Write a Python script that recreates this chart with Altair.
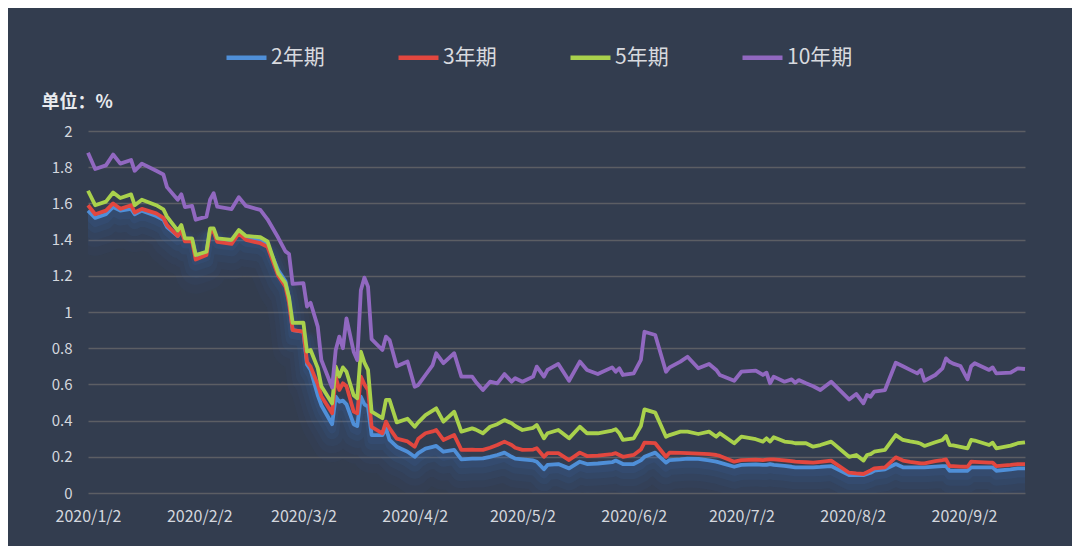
import altair as alt
import pandas as pd

# ---- data ----
dates = [
    "2020-01-02", "2020-01-04", "2020-01-07", "2020-01-09", "2020-01-11", "2020-01-14",
    "2020-01-15", "2020-01-17", "2020-01-21", "2020-01-23", "2020-01-24", "2020-01-27",
    "2020-01-28", "2020-01-29", "2020-01-31", "2020-02-01", "2020-02-04", "2020-02-05",
    "2020-02-06", "2020-02-07", "2020-02-11", "2020-02-13", "2020-02-15", "2020-02-19",
    "2020-02-21", "2020-02-24", "2020-02-26", "2020-02-27", "2020-02-28", "2020-03-02",
    "2020-03-03", "2020-03-04", "2020-03-06", "2020-03-07", "2020-03-10", "2020-03-11",
    "2020-03-12", "2020-03-13", "2020-03-14", "2020-03-16", "2020-03-17", "2020-03-18",
    "2020-03-19", "2020-03-20", "2020-03-21", "2020-03-24", "2020-03-25", "2020-03-26",
    "2020-03-28", "2020-03-31", "2020-04-02", "2020-04-03", "2020-04-05", "2020-04-07",
    "2020-04-08", "2020-04-10", "2020-04-13", "2020-04-15", "2020-04-18", "2020-04-19",
    "2020-04-21", "2020-04-23", "2020-04-25", "2020-04-27", "2020-04-29", "2020-04-30",
    "2020-05-02", "2020-05-05", "2020-05-06", "2020-05-08", "2020-05-09", "2020-05-12",
    "2020-05-15", "2020-05-18", "2020-05-20", "2020-05-23", "2020-05-27", "2020-05-28",
    "2020-05-29", "2020-05-30", "2020-06-02", "2020-06-04", "2020-06-05", "2020-06-08",
    "2020-06-11", "2020-06-12", "2020-06-15", "2020-06-17", "2020-06-20", "2020-06-23",
    "2020-06-25", "2020-06-26", "2020-06-30", "2020-07-02", "2020-07-06", "2020-07-08",
    "2020-07-09", "2020-07-10", "2020-07-11", "2020-07-14", "2020-07-16", "2020-07-17",
    "2020-07-18", "2020-07-20", "2020-07-22", "2020-07-24", "2020-07-27", "2020-08-01",
    "2020-08-03", "2020-08-05", "2020-08-06", "2020-08-07", "2020-08-08", "2020-08-11",
    "2020-08-14", "2020-08-16", "2020-08-18", "2020-08-20", "2020-08-21", "2020-08-22",
    "2020-08-25", "2020-08-27", "2020-08-28", "2020-08-29", "2020-08-30", "2020-09-01",
    "2020-09-03", "2020-09-04", "2020-09-05", "2020-09-09", "2020-09-10", "2020-09-11",
    "2020-09-15", "2020-09-17", "2020-09-19",
]

y10 = [
    1.88, 1.79, 1.81, 1.87, 1.82, 1.84, 1.78, 1.82, 1.78, 1.76, 1.69, 1.62,
    1.65, 1.58, 1.586, 1.51, 1.527, 1.62, 1.656, 1.582, 1.569, 1.634, 1.586, 1.564,
    1.512, 1.41, 1.335, 1.32, 1.155, 1.16, 1.03, 1.051, 0.919, 0.735, 0.583, 0.79,
    0.864, 0.80, 0.965, 0.781, 0.735, 1.12, 1.19, 1.14, 0.85, 0.79, 0.864, 0.845,
    0.70, 0.726, 0.587, 0.597, 0.652, 0.707, 0.772, 0.717, 0.772, 0.643, 0.643, 0.615,
    0.569, 0.615, 0.606, 0.657, 0.615, 0.634, 0.615, 0.643, 0.698, 0.643, 0.68, 0.713,
    0.62, 0.726, 0.68, 0.657, 0.694, 0.67, 0.689, 0.652, 0.661, 0.735, 0.891, 0.873,
    0.67, 0.694, 0.726, 0.753, 0.689, 0.713, 0.68, 0.652, 0.62, 0.67, 0.676, 0.652,
    0.665, 0.606, 0.643, 0.615, 0.628, 0.609, 0.624, 0.606, 0.59, 0.569, 0.615, 0.517,
    0.547, 0.496, 0.541, 0.532, 0.56, 0.569, 0.72, 0.70, 0.68, 0.661, 0.68, 0.62,
    0.652, 0.689, 0.744, 0.725, 0.715, 0.702, 0.628, 0.70, 0.717, 0.68, 0.694, 0.661,
    0.665, 0.689, 0.685,
]

y5 = [
    1.67, 1.59, 1.61, 1.66, 1.63, 1.65, 1.59, 1.62, 1.59, 1.567, 1.527, 1.45,
    1.48, 1.407, 1.407, 1.315, 1.333, 1.462, 1.462, 1.407, 1.398, 1.453, 1.42, 1.413,
    1.39, 1.214, 1.159, 1.08, 0.94, 0.941, 0.781, 0.79, 0.69, 0.59, 0.495, 0.698,
    0.643, 0.694, 0.67, 0.54, 0.523, 0.781, 0.72, 0.68, 0.449, 0.413, 0.514, 0.514,
    0.39, 0.41, 0.366, 0.39, 0.43, 0.455, 0.468, 0.394, 0.449, 0.339, 0.357, 0.35,
    0.33, 0.366, 0.38, 0.403, 0.385, 0.37, 0.348, 0.36, 0.376, 0.302, 0.33, 0.348,
    0.302, 0.366, 0.33, 0.33, 0.345, 0.352, 0.33, 0.293, 0.302, 0.37, 0.462, 0.444,
    0.311, 0.32, 0.339, 0.339, 0.326, 0.339, 0.311, 0.33, 0.275, 0.311, 0.297, 0.284,
    0.302, 0.284, 0.308, 0.284, 0.28, 0.275, 0.275, 0.275, 0.256, 0.265, 0.284, 0.20,
    0.21, 0.179, 0.21, 0.215, 0.228, 0.238, 0.32, 0.293, 0.285, 0.278, 0.272, 0.26,
    0.28, 0.293, 0.315, 0.265, 0.263, 0.255, 0.247, 0.293, 0.29, 0.265, 0.278, 0.247,
    0.262, 0.275, 0.28,
]

y3 = [
    1.59, 1.54, 1.56, 1.60, 1.57, 1.59, 1.55, 1.57, 1.545, 1.52, 1.48, 1.42,
    1.45, 1.39, 1.39, 1.29, 1.315, 1.444, 1.444, 1.388, 1.376, 1.435, 1.398, 1.38,
    1.36, 1.20, 1.14, 1.05, 0.90, 0.891, 0.725, 0.698, 0.60, 0.535, 0.44, 0.643,
    0.569, 0.606, 0.59, 0.45, 0.44, 0.643, 0.60, 0.569, 0.366, 0.33, 0.394, 0.357,
    0.30, 0.285, 0.256, 0.30, 0.33, 0.34, 0.348, 0.293, 0.32, 0.238, 0.24, 0.238,
    0.238, 0.25, 0.265, 0.284, 0.265, 0.25, 0.238, 0.24, 0.247, 0.20, 0.22, 0.22,
    0.182, 0.223, 0.204, 0.207, 0.215, 0.22, 0.21, 0.20, 0.21, 0.24, 0.278, 0.275,
    0.20, 0.223, 0.222, 0.22, 0.218, 0.215, 0.21, 0.205, 0.173, 0.182, 0.184, 0.182,
    0.184, 0.186, 0.186, 0.18, 0.176, 0.173, 0.172, 0.17, 0.168, 0.172, 0.179, 0.112,
    0.108, 0.105, 0.115, 0.125, 0.136, 0.142, 0.197, 0.179, 0.172, 0.167, 0.164, 0.164,
    0.176, 0.182, 0.186, 0.149, 0.148, 0.146, 0.145, 0.173, 0.172, 0.168, 0.168, 0.149,
    0.155, 0.16, 0.16,
]

y2 = [
    1.56, 1.52, 1.54, 1.58, 1.56, 1.57, 1.54, 1.56, 1.53, 1.51, 1.47, 1.42,
    1.45, 1.40, 1.40, 1.31, 1.33, 1.45, 1.45, 1.40, 1.39, 1.44, 1.41, 1.40,
    1.37, 1.23, 1.17, 1.07, 0.90, 0.89, 0.71, 0.68, 0.54, 0.485, 0.38, 0.532,
    0.504, 0.51, 0.49, 0.38, 0.37, 0.532, 0.49, 0.477, 0.32, 0.32, 0.357, 0.293,
    0.256, 0.228, 0.20, 0.22, 0.245, 0.255, 0.26, 0.228, 0.238, 0.186, 0.19, 0.19,
    0.191, 0.20, 0.21, 0.223, 0.20, 0.19, 0.186, 0.18, 0.173, 0.131, 0.155, 0.16,
    0.136, 0.173, 0.16, 0.163, 0.17, 0.179, 0.17, 0.16, 0.16, 0.18, 0.20, 0.223,
    0.168, 0.182, 0.186, 0.19, 0.188, 0.18, 0.173, 0.168, 0.145, 0.155, 0.158, 0.155,
    0.155, 0.16, 0.155, 0.15, 0.145, 0.142, 0.142, 0.142, 0.142, 0.144, 0.149, 0.099,
    0.099, 0.099, 0.105, 0.112, 0.123, 0.131, 0.16, 0.142, 0.142, 0.142, 0.142, 0.142,
    0.146, 0.148, 0.149, 0.123, 0.123, 0.123, 0.123, 0.142, 0.142, 0.142, 0.142, 0.123,
    0.13, 0.136, 0.136,
]

series_names = ["2年期", "3年期", "5年期", "10年期"]
series_colors = ["#4f8fd8", "#e2473f", "#a9d14c", "#9168c0"]
y_ticks = [0, 0.2, 0.4, 0.6, 0.8, 1.0, 1.2, 1.4, 1.6, 1.8, 2.0]
x_tick_months = [1, 2, 3, 4, 5, 6, 7, 8, 9]

# ---- long table ----
rows = []
for name, vals in zip(series_names, [y2, y3, y5, y10]):
    for d, v in zip(dates, vals):
        rows.append({"date": d, "series": name, "value": v})
df = pd.DataFrame(rows)

label_color = "#d3d7de"
font = "Noto Sans CJK SC"

x_enc = alt.X(
    "date:T",
    scale=alt.Scale(
        type="utc",
        domain=[alt.DateTime(year=2020, month=1, date=2, utc=True),
                alt.DateTime(year=2020, month=9, date=19, utc=True)],
    ),
    axis=alt.Axis(
        title=None,
        values=[alt.DateTime(year=2020, month=m, date=2, utc=True) for m in x_tick_months],
        labelExpr="utcFormat(datum.value, '%Y/%-m/%-d')",
        labelFontSize=16,
        labelColor=label_color,
        labelFont=font,
        labelPadding=15,
        labelFlush=False,
        labelAlign="center",
        domain=False,
        ticks=False,
        grid=False,
        labelOverlap=False,
    ),
)

y_enc = alt.Y(
    "value:Q",
    scale=alt.Scale(domain=[0, 2], nice=False, zero=True),
    axis=alt.Axis(
        title="单位：%",
        titleAngle=0,
        titleAlign="left",
        titleBaseline="middle",
        titleX=-47,
        titleY=-29,
        titleFontSize=18,
        titleFontWeight="bold",
        titleColor="#e8eaee",
        titleFont=font,
        values=y_ticks,
        format="~g",
        labelFontSize=15,
        labelColor=label_color,
        labelFont=font,
        labelPadding=16,
        domain=False,
        ticks=False,
        grid=True,
        gridColor="#5c5e64",
        gridWidth=1.6,
    ),
)

color_enc = alt.Color(
    "series:N",
    scale=alt.Scale(domain=series_names, range=series_colors),
    legend=alt.Legend(
        title=None,
        orient="none",
        legendX=136,
        legendY=-96,
        direction="horizontal",
        symbolType="stroke",
        symbolSize=1600,
        symbolStrokeWidth=4.5,
        labelFontSize=21,
        labelColor="#d8dadf",
        labelFont=font,
        labelOffset=2,
        columnPadding=64,
        padding=0,
    ),
)

base = alt.Chart(df)

# soft blue glow under the 2-year line
glow_specs = [(40, 18, 0.035), (30, 14, 0.045), (22, 11, 0.055), (14, 8, 0.07), (8, 5, 0.09)]
glow_layers = [
    base.transform_filter(alt.datum.series == "2年期").mark_line(
        color="#3f7fd0", strokeWidth=w, opacity=o, yOffset=off,
        strokeJoin="round", strokeCap="round", clip=True
    ).encode(x=x_enc, y=y_enc)
    for (w, off, o) in glow_specs
]

line_layers = [
    base.transform_filter(alt.datum.series == name)
    .mark_line(strokeWidth=3.8, strokeJoin="round")
    .encode(x=x_enc, y=y_enc, color=color_enc)
    for name in series_names
]

chart = alt.layer(*glow_layers, *line_layers).properties(
    width=937,
    height=362,
    background="#333d4f",
    padding={"left": 80, "top": 123, "right": 47, "bottom": 53},
    autosize=alt.AutoSizeParams(type="none"),
).configure_view(stroke=None)

chart.save("out.html", embed_options={"renderer": "svg", "actions": False})
